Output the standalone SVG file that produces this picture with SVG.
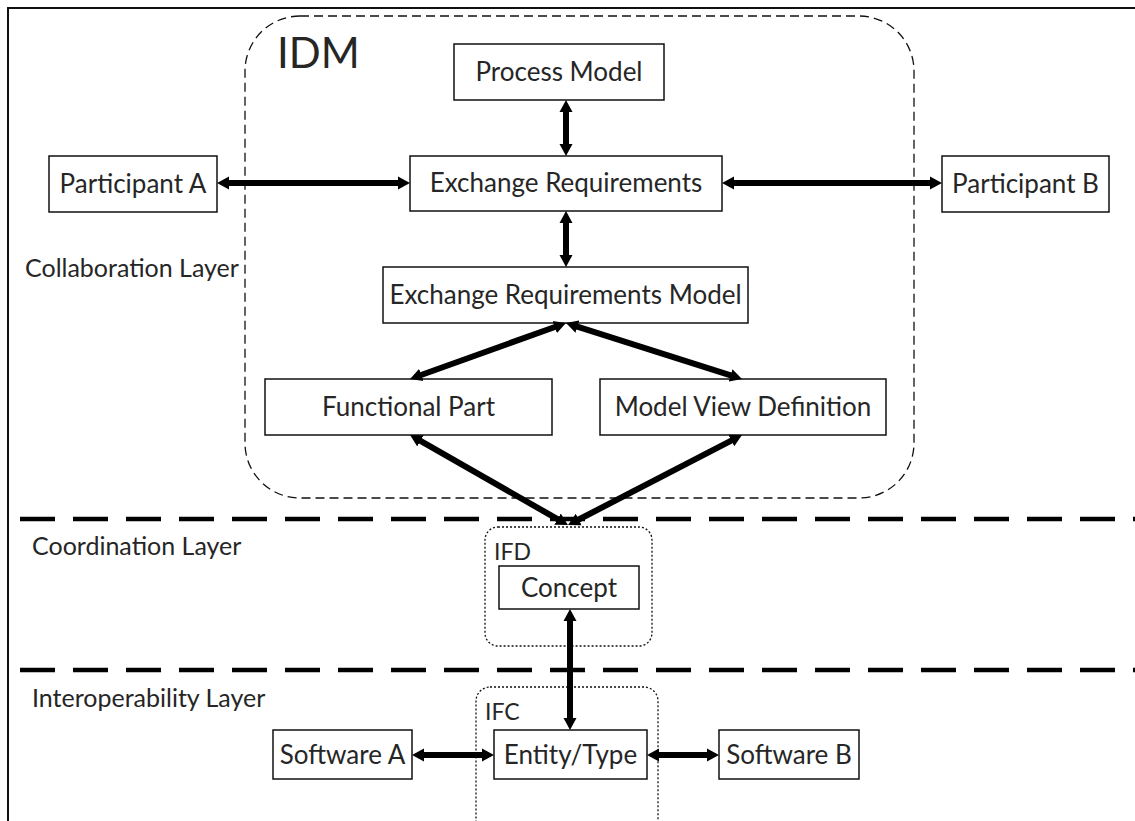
<svg xmlns="http://www.w3.org/2000/svg" width="1135" height="821" viewBox="0 0 1135 821">
<style>
.box{fill:#fff;stroke:#111;stroke-width:1.5}
.lbl{font-family:Lato,"Open Sans",sans-serif;font-size:26px;fill:#262626;text-anchor:middle}
.layer{font-family:Lato,"Open Sans",sans-serif;font-size:25px;fill:#262626}
.grp{font-family:Lato,"Open Sans",sans-serif;font-size:23px;fill:#262626}
.arr{stroke:#000;stroke-width:6;fill:none;marker-start:url(#ah);marker-end:url(#ah)}
.sep{stroke:#000;stroke-width:4.5;stroke-dasharray:35 18;fill:none}
</style>
<defs>
<marker id="ah" markerUnits="userSpaceOnUse" markerWidth="14" markerHeight="14" viewBox="0 0 14 14" refX="1" refY="7" orient="auto-start-reverse">
<path d="M0,0.5 L12,7 L0,13.5 z" fill="#000"/>
</marker>
</defs>
<rect x="8" y="8" width="1140" height="830" fill="none" stroke="#111" stroke-width="2"/>
<g id="separators">
<line class="sep" x1="20" y1="519" x2="1135" y2="519"/>
<line class="sep" x1="20" y1="670" x2="1135" y2="670"/>
</g>
<g id="layer-labels">
<text class="layer" x="25" y="277">Collaboration Layer</text>
<text class="layer" x="32" y="555">Coordination Layer</text>
<text class="layer" x="32" y="707">Interoperability Layer</text>
</g>
<g id="idm">
<rect x="245" y="16" width="669" height="482" rx="55" ry="55" fill="none" stroke="#111" stroke-width="1.3" stroke-dasharray="9 5"/>
<text x="277" y="68" font-family="Lato,'Open Sans',sans-serif" font-size="42" fill="#262626">IDM</text>
</g>
<g id="ifd">
<rect x="485" y="527" width="167" height="119" rx="13" ry="13" fill="none" stroke="#111" stroke-width="1.3" stroke-dasharray="2 2"/>
<text class="grp" x="494" y="560">IFD</text>
</g>
<g id="ifc">
<rect x="476" y="687" width="182" height="160" rx="14" ry="14" fill="none" stroke="#111" stroke-width="1.3" stroke-dasharray="2 2"/>
<text class="grp" x="485" y="720">IFC</text>
</g>
<g id="process-model"><rect class="box" x="454" y="44" width="210" height="56"/><text class="lbl" x="559" y="81">Process Model</text></g>
<g id="exchange-requirements"><rect class="box" x="410" y="156" width="312" height="55"/><text class="lbl" x="566" y="192">Exchange Requirements</text></g>
<g id="participant-a"><rect class="box" x="49" y="156" width="168" height="56"/><text class="lbl" x="133" y="193">Participant A</text></g>
<g id="participant-b"><rect class="box" x="942" y="156" width="167" height="56"/><text class="lbl" x="1025.5" y="193">Participant B</text></g>
<g id="erm"><rect class="box" x="383" y="267" width="365" height="56"/><text class="lbl" x="565.5" y="304">Exchange Requirements Model</text></g>
<g id="functional-part"><rect class="box" x="265" y="379" width="287" height="56"/><text class="lbl" x="408.5" y="416">Functional Part</text></g>
<g id="mvd"><rect class="box" x="600" y="379" width="286" height="56"/><text class="lbl" x="743" y="416">Model View Definition</text></g>
<g id="concept"><rect class="box" x="499" y="566" width="140" height="43"/><text class="lbl" x="569" y="597">Concept</text></g>
<g id="entity-type"><rect class="box" x="494" y="730" width="153" height="49"/><text class="lbl" x="570.5" y="764">Entity/Type</text></g>
<g id="software-a"><rect class="box" x="273" y="730" width="139" height="49"/><text class="lbl" x="342.5" y="764">Software A</text></g>
<g id="software-b"><rect class="box" x="719" y="730" width="140" height="49"/><text class="lbl" x="789" y="764">Software B</text></g>
<g id="connectors">
<line class="arr" x1="228" y1="183" x2="399" y2="183"/>
<line class="arr" x1="733" y1="183" x2="931" y2="183"/>
<line class="arr" x1="566" y1="111" x2="566" y2="145"/>
<line class="arr" x1="566" y1="222" x2="566" y2="256"/>
<line class="arr" x1="555.6" y1="326.7" x2="420.4" y2="375.3"/>
<line class="arr" x1="576.5" y1="326.3" x2="731.5" y2="375.7"/>
<line class="arr" x1="558.4" y1="519.6" x2="419.6" y2="440.4"/>
<line class="arr" x1="577.8" y1="520" x2="732.2" y2="440.1"/>
<line class="arr" x1="570" y1="620" x2="570" y2="719"/>
<line class="arr" x1="423" y1="755" x2="483" y2="755"/>
<line class="arr" x1="658" y1="755" x2="708" y2="755"/>
</g>
</svg>
